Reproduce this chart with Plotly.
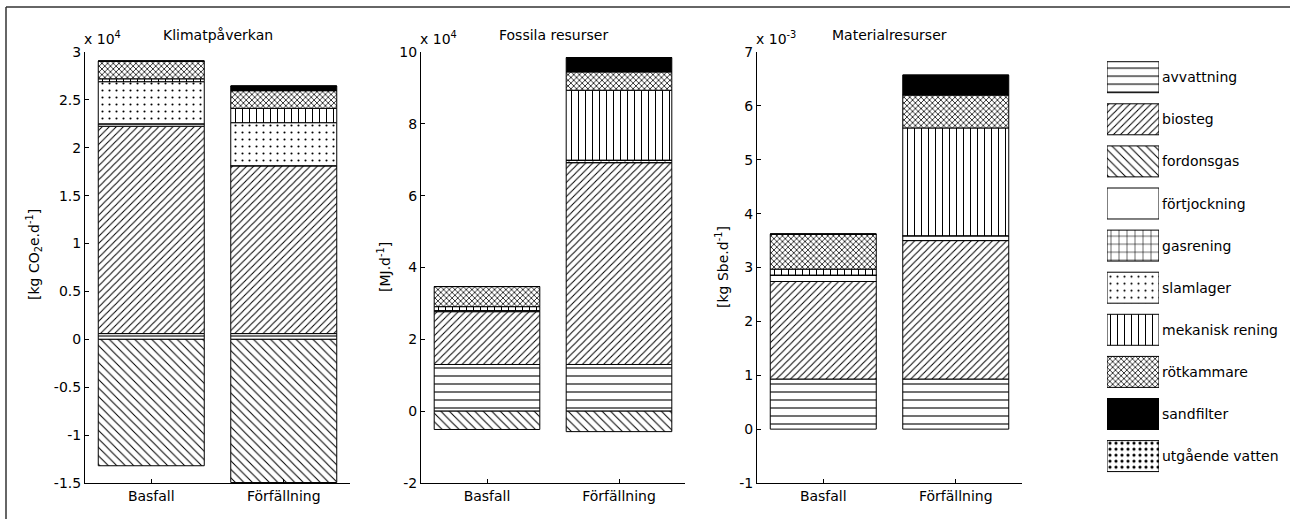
import plotly.graph_objects as go

W, H = 1290, 519

# ---------------- data ----------------
cases = ["Basfall", "Förfällning"]
series = ["avvattning", "biosteg", "fordonsgas", "förtjockning", "gasrening",
          "slamlager", "mekanisk rening", "rötkammare", "sandfilter", "utgående vatten"]

# Klimatpåverkan [kg CO2e/d]  (Basfall, Förfällning)
klimat_avvattning = [600, 600]
klimat_biosteg = [21650, 17530]
klimat_fordonsgas = [-13200, -14950]
klimat_fortjockning = [250, 0]
klimat_gasrening = [0, 0]
klimat_slamlager = [4400, 4490]
klimat_mekanisk = [300, 1500]
klimat_rotkammare = [1850, 1840]
klimat_sandfilter = [0, 490]
klimat_utgaende = [0, 0]

# Fossila resurser [MJ/d]
fossil_avvattning = [13000, 13000]
fossil_biosteg = [14700, 56200]
fossil_fordonsgas = [-5100, -5700]
fossil_fortjockning = [300, 0]
fossil_gasrening = [0, 700]
fossil_slamlager = [0, 0]
fossil_mekanisk = [1100, 19450]
fossil_rotkammare = [5600, 5100]
fossil_sandfilter = [0, 4000]
fossil_utgaende = [0, 0]

# Materialresurser [kg Sbe/d]
mat_avvattning = [0.00093, 0.00093]
mat_biosteg = [0.00181, 0.00257]
mat_fordonsgas = [0, 0]
mat_fortjockning = [0.00012, 0.00009]
mat_gasrening = [0, 0]
mat_slamlager = [0, 0]
mat_mekanisk = [0.00011, 0.00200]
mat_rotkammare = [0.00065, 0.00061]
mat_sandfilter = [0, 0.00037]
mat_utgaende = [0, 0]

panel_titles = ["Klimatpåverkan", "Fossila resurser", "Materialresurser"]
panel_ylabels = ["[kg CO<sub>2</sub>e.d<sup>-1</sup>]", "[MJ.d<sup>-1</sup>]", "[kg Sbe.d<sup>-1</sup>]"]
panel_multipliers = ["x 10<sup>4</sup>", "x 10<sup>4</sup>", "x 10<sup>-3</sup>"]
panel_scale = [1e4, 1e4, 1e-3]
klimat_ticks = [-1.5, -1, -0.5, 0, 0.5, 1, 1.5, 2, 2.5, 3]
fossil_ticks = [-2, 0, 2, 4, 6, 8, 10]
mat_ticks = [-1, 0, 1, 2, 3, 4, 5, 6, 7]

panel_data = [
    [klimat_avvattning, klimat_biosteg, klimat_fordonsgas, klimat_fortjockning, klimat_gasrening,
     klimat_slamlager, klimat_mekanisk, klimat_rotkammare, klimat_sandfilter, klimat_utgaende],
    [fossil_avvattning, fossil_biosteg, fossil_fordonsgas, fossil_fortjockning, fossil_gasrening,
     fossil_slamlager, fossil_mekanisk, fossil_rotkammare, fossil_sandfilter, fossil_utgaende],
    [mat_avvattning, mat_biosteg, mat_fordonsgas, mat_fortjockning, mat_gasrening,
     mat_slamlager, mat_mekanisk, mat_rotkammare, mat_sandfilter, mat_utgaende],
]
panel_ticks = [klimat_ticks, fossil_ticks, mat_ticks]

# ---------------- styles ----------------
styles = {
    "avvattning": dict(color="white", shape="-", size=8, solidity=0.14),
    "biosteg": dict(color="white", shape="/", size=5, solidity=0.2),
    "fordonsgas": dict(color="white", shape="\\", size=6, solidity=0.17),
    "förtjockning": dict(color="white", shape="", size=8, solidity=0.1),
    "gasrening": dict(color="white", shape="+", size=8, solidity=0.14),
    "slamlager": dict(color="white", shape=".", size=7, solidity=0.07),
    "mekanisk rening": dict(color="white", shape="|", size=7, solidity=0.15),
    "rötkammare": dict(color="white", shape="x", size=4, solidity=0.35),
    "sandfilter": dict(color="black", shape="", size=8, solidity=0.1),
    "utgående vatten": dict(color="white", shape=".", size=6, solidity=0.22),
}

FONT = "DejaVu Sans"
FS = 14

def px_x(p):
    return p / W

def px_y(p):
    return 1 - p / H

x_px = [(85, 350), (421, 685), (757, 1022)]
y_px = (52, 483)

fig = go.Figure()

def marker_for(name):
    s = styles[name]
    m = dict(color=s["color"], line=dict(color="black", width=1))
    if s["shape"]:
        m["pattern"] = dict(shape=s["shape"], size=s["size"], solidity=s["solidity"],
                            fgcolor="black", bgcolor="white", fillmode="replace")
    return m

for p in range(3):
    ax = "" if p == 0 else str(p + 1)
    for name, vals in zip(series, panel_data[p]):
        fig.add_trace(go.Bar(x=cases, y=vals, name=name, marker=marker_for(name),
                             xaxis="x" + ax, yaxis="y" + ax, showlegend=False))

# legend drawn as a small bar subplot
for i, name in enumerate(series):
    fig.add_trace(go.Bar(x=[1], y=[i], base=0, orientation="h", width=0.736,
                         marker=marker_for(name), xaxis="x4", yaxis="y4", showlegend=False))

layout = dict(
    width=W, height=H, margin=dict(l=0, r=0, t=0, b=0, pad=0, autoexpand=False),
    paper_bgcolor="white", plot_bgcolor="white",
    barmode="relative", bargap=0.2,
    font=dict(family=FONT, size=FS, color="black"),
)

annotations = []
for p in range(3):
    ax = "" if p == 0 else str(p + 1)
    x0, x1 = x_px[p]
    s = panel_scale[p]
    ticks = panel_ticks[p]
    layout["xaxis" + ax] = dict(
        domain=[px_x(x0), px_x(x1)], anchor="y" + ax, type="category", range=[-0.5, 1.5],
        showline=True, linecolor="black", linewidth=1, ticks="inside", ticklen=4,
        tickcolor="black", showgrid=False, zeroline=False, tickfont=dict(size=FS),
        automargin=False,
    )
    layout["yaxis" + ax] = dict(
        domain=[px_y(y_px[1]), px_y(y_px[0])], anchor="x" + ax,
        range=[ticks[0] * s, ticks[-1] * s],
        tickvals=[t * s for t in ticks], ticktext=[f"{t:g}" for t in ticks],
        showline=True, linecolor="black", linewidth=1, ticks="inside", ticklen=4,
        tickcolor="black", showgrid=False, zeroline=False, tickfont=dict(size=FS),
        automargin=False,
    )
    cx = (x0 + x1) / 2
    annotations.append(dict(text=panel_titles[p], x=px_x(cx), y=px_y(35), xref="paper", yref="paper",
                            showarrow=False, xanchor="center", yanchor="middle"))
    annotations.append(dict(text=panel_multipliers[p], x=px_x(x0 - 3), y=px_y(38), xref="paper", yref="paper",
                            showarrow=False, xanchor="left", yanchor="middle"))

ylabel_x = [34, 384, 722]
ylabel_y = [255, 267, 267]
for p in range(3):
    annotations.append(dict(text=panel_ylabels[p], x=px_x(ylabel_x[p]), y=px_y(ylabel_y[p]),
                            xref="paper", yref="paper", showarrow=False, textangle=-90,
                            xanchor="center", yanchor="middle"))

# legend axes
leg_top, leg_step = 77.2, 42.1
layout["xaxis4"] = dict(domain=[px_x(1107), px_x(1159)], anchor="y4", range=[0, 1], visible=False,
                        automargin=False)
layout["yaxis4"] = dict(domain=[px_y(leg_top + 9.5 * leg_step), px_y(leg_top - 0.5 * leg_step)],
                        anchor="x4", range=[9.5, -0.5], visible=False, automargin=False)
for i, name in enumerate(series):
    annotations.append(dict(text=name, x=px_x(1160), y=px_y(leg_top + i * leg_step), xref="paper",
                            yref="paper", showarrow=False, xanchor="left", yanchor="middle"))

layout["annotations"] = annotations
layout["shapes"] = [
    dict(type="line", xref="paper", yref="paper", x0=px_x(6), x1=1, y0=px_y(7), y1=px_y(7),
         line=dict(color="#333333", width=1.5)),
    dict(type="line", xref="paper", yref="paper", x0=px_x(6), x1=px_x(6), y0=px_y(7), y1=0,
         line=dict(color="#333333", width=1.5)),
]

fig.update_layout(**layout)
fig.write_html(
    "out.html",
    config={"displayModeBar": False},
    post_script=(
        "document.body.style.margin='0';document.body.style.padding='0';"
        "document.body.style.overflow='hidden';"
        "document.documentElement.style.overflow='hidden';"
        "var d=document.getElementById('{plot_id}');"
        "d.style.position='absolute';d.style.top='0px';d.style.left='0px';"
    ),
)
